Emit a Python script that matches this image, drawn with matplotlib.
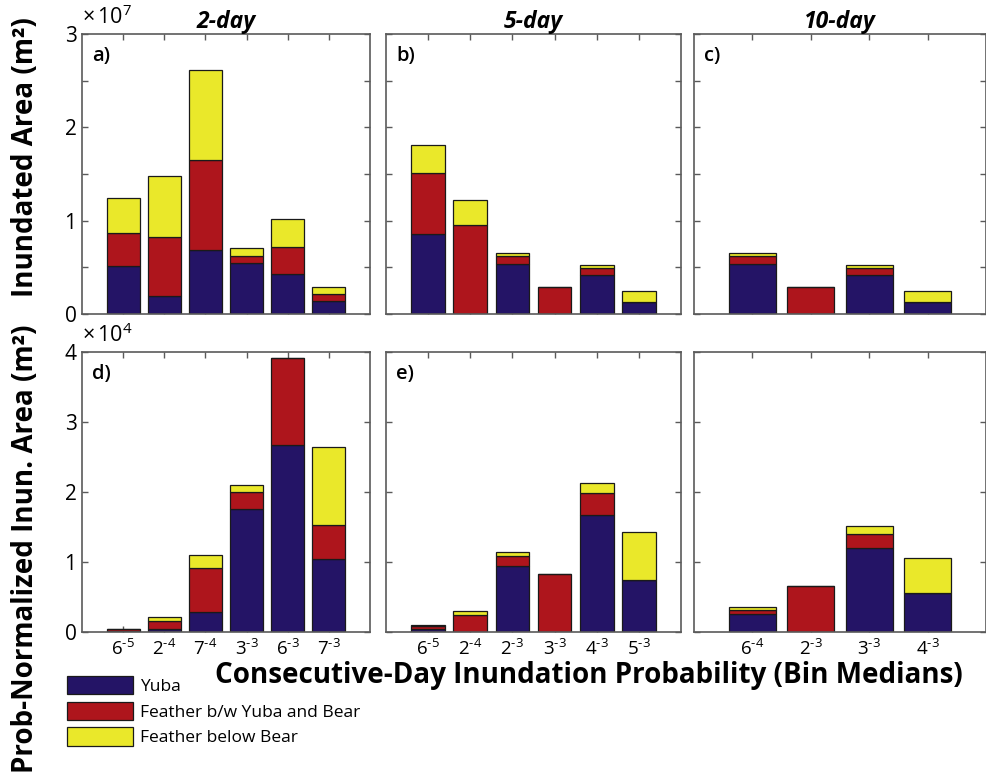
import numpy as np
import matplotlib
matplotlib.use("Agg")
import matplotlib.pyplot as plt
from matplotlib.patches import Patch
from matplotlib.ticker import FixedLocator, FuncFormatter

plt.rcParams["font.family"] = ["Open Sans", "DejaVu Sans"]
plt.rcParams["mathtext.fontset"] = "custom"
plt.rcParams["mathtext.rm"] = "Open Sans"
plt.rcParams["mathtext.it"] = "Open Sans:italic"
plt.rcParams["mathtext.bf"] = "Open Sans:bold"

COLORS = ["#241466", "#AE151C", "#EAE82A"]
SERIES = ["Yuba", "Feather b/w Yuba and Bear", "Feather below Bear"]
DURATIONS = ["2-day", "5-day", "10-day"]

# bin medians (tick labels)
bins_2day = ["6$^{\\text{-}5}$", "2$^{\\text{-}4}$", "7$^{\\text{-}4}$",
             "3$^{\\text{-}3}$", "6$^{\\text{-}3}$", "7$^{\\text{-}3}$"]
bins_5day = ["6$^{\\text{-}5}$", "2$^{\\text{-}4}$", "2$^{\\text{-}3}$",
             "3$^{\\text{-}3}$", "4$^{\\text{-}3}$", "5$^{\\text{-}3}$"]
bins_10day = ["6$^{\\text{-}4}$", "2$^{\\text{-}3}$", "3$^{\\text{-}3}$", "4$^{\\text{-}3}$"]

# inundated area, units of 1e7 m^2 (Yuba, Feather b/w Yuba and Bear, Feather below Bear)
area_2day_yuba = [0.51, 0.19, 0.69, 0.55, 0.43, 0.14]
area_2day_fby = [0.36, 0.64, 0.96, 0.07, 0.29, 0.07]
area_2day_fbb = [0.375, 0.65, 0.96, 0.086, 0.30, 0.075]

area_5day_yuba = [0.857, 0.0, 0.54, 0.0, 0.418, 0.125]
area_5day_fby = [0.654, 0.954, 0.082, 0.286, 0.071, 0.0]
area_5day_fbb = [0.30, 0.271, 0.036, 0.0, 0.036, 0.125]

area_10day_yuba = [0.54, 0.0, 0.418, 0.125]
area_10day_fby = [0.082, 0.286, 0.071, 0.0]
area_10day_fbb = [0.036, 0.0, 0.036, 0.125]

# probability-normalized inundated area, units of 1e4 m^2
norm_2day_yuba = [0.015, 0.05, 0.285, 1.758, 2.67, 1.045]
norm_2day_fby = [0.03, 0.11, 0.627, 0.247, 1.25, 0.485]
norm_2day_fbb = [0.0, 0.054, 0.181, 0.095, 0.0, 1.116]

norm_5day_yuba = [0.05, 0.0, 0.938, 0.0, 1.676, 0.748]
norm_5day_fby = [0.035, 0.238, 0.152, 0.833, 0.31, 0.0]
norm_5day_fbb = [0.02, 0.062, 0.058, 0.0, 0.147, 0.676]

norm_10day_yuba = [0.262, 0.0, 1.205, 0.557]
norm_10day_fby = [0.057, 0.657, 0.20, 0.0]
norm_10day_fbb = [0.038, 0.0, 0.109, 0.505]

top_data = [
    (area_2day_yuba, area_2day_fby, area_2day_fbb),
    (area_5day_yuba, area_5day_fby, area_5day_fbb),
    (area_10day_yuba, area_10day_fby, area_10day_fbb),
]
bot_data = [
    (norm_2day_yuba, norm_2day_fby, norm_2day_fbb),
    (norm_5day_yuba, norm_5day_fby, norm_5day_fbb),
    (norm_10day_yuba, norm_10day_fby, norm_10day_fbb),
]
bin_labels = [bins_2day, bins_5day, bins_10day]

W, H = 987, 773
fig = plt.figure(figsize=(W / 100, H / 100), dpi=100)

COLS = [(82, 370), (386, 681), (694, 986)]
ROWS = [(34, 314), (352, 632)]


def px_axes(col, row):
    x0, x1 = COLS[col]
    y0, y1 = ROWS[row]
    return fig.add_axes([x0 / W, 1 - y1 / H, (x1 - x0) / W, (y1 - y0) / H])


def stacked(ax, series):
    n = len(series[0])
    x = np.arange(1, n + 1)
    bottom = np.zeros(n)
    for vals, c in zip(series, COLORS):
        vals = np.asarray(vals)
        ax.bar(x, vals, 0.8, bottom=bottom, color=c, edgecolor="#1a1a1a",
               linewidth=0.9, zorder=2)
        bottom += vals
    ax.set_xlim(0, n + 1)
    ax.set_xticks(x)
    return x


def style(ax):
    for s in ax.spines.values():
        s.set_color("#5a5a5a")
        s.set_linewidth(1.2)
    ax.tick_params(direction="in", top=True, right=True, length=4,
                   width=1, color="#5a5a5a", labelsize=15, pad=4)


int_only = FuncFormatter(lambda v, p: f"{v:.0f}" if abs(v - round(v)) < 1e-6 else "")
letters = "abcdef"

for j in range(3):
    # top row
    ax = px_axes(j, 0)
    stacked(ax, top_data[j])
    ax.set_ylim(0, 3)
    ax.yaxis.set_major_locator(FixedLocator(np.arange(0, 3.01, 0.5)))
    if j == 0:
        ax.yaxis.set_major_formatter(int_only)
        ax.text(0.0, 1.035, r"$\times\,10^{7}$", transform=ax.transAxes,
                ha="left", va="baseline", fontsize=15.5)
    else:
        ax.set_yticklabels([])
    ax.set_xticklabels([])
    style(ax)
    ax.set_title(DURATIONS[j], fontsize=16.5, fontweight="bold", fontstyle="italic", pad=3)
    ax.text(0.035, 0.92, letters[j] + ")", transform=ax.transAxes, fontsize=14.5,
            fontweight="semibold", ha="left", va="center")

    # bottom row
    ax = px_axes(j, 1)
    stacked(ax, bot_data[j])
    ax.set_ylim(0, 4)
    ax.set_yticks(np.arange(0, 5))
    if j == 0:
        ax.set_yticklabels([str(v) for v in range(5)])
        ax.text(0.0, 1.035, r"$\times\,10^{4}$", transform=ax.transAxes,
                ha="left", va="baseline", fontsize=15.5)
    else:
        ax.set_yticklabels([])
    ax.set_xticklabels(bin_labels[j])
    style(ax)
    ax.tick_params(axis="x", labelsize=13.5, pad=5)
    if j < 2:
        ax.text(0.035, 0.92, letters[j + 3] + ")", transform=ax.transAxes, fontsize=14.5,
                fontweight="semibold", ha="left", va="center")

fig.text(26 / W, 1 - 157 / H, "Inundated Area (m²)", rotation=90, ha="center",
         va="center", fontsize=20, fontweight="bold")
fig.text(26 / W, 1 - 549 / H, "Prob-Normalized Inun. Area (m²)", rotation=90,
         ha="center", va="center", fontsize=20, fontweight="bold")
fig.text(589 / W, 1 - 676 / H, "Consecutive-Day Inundation Probability (Bin Medians)",
         ha="center", va="center", fontsize=20, fontweight="bold")

handles = [Patch(facecolor=c, edgecolor="#1a1a1a", linewidth=0.9) for c in COLORS]
fig.legend(handles, SERIES, loc="upper left", bbox_to_anchor=(67 / W, 1 - 676 / H),
           frameon=False, fontsize=12.5, handlelength=3.8, handleheight=1.25,
           labelspacing=0.38, handletextpad=0.4, borderpad=0, borderaxespad=0)

fig.savefig("out.png", dpi=100)
